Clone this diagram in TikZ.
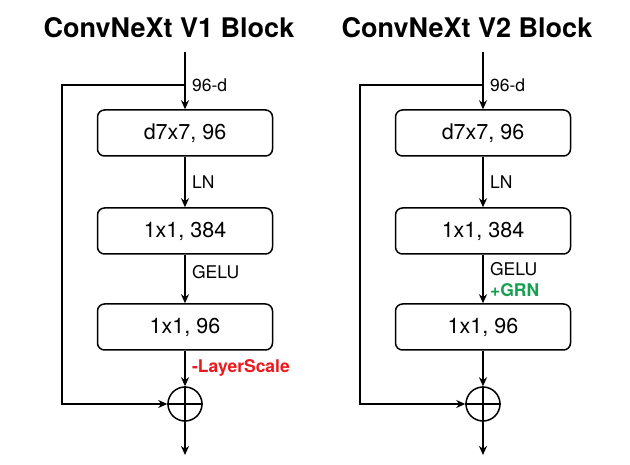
\documentclass[tikz,border=0pt]{standalone}
\usepackage{fontspec}
\setmainfont{TeX Gyre Heros}
\usetikzlibrary{arrows.meta}
\definecolor{lsred}{RGB}{235,25,30}
\definecolor{grngreen}{RGB}{20,160,80}

\begin{document}
\begin{tikzpicture}[x=1pt,y=-1pt,>={Stealth[length=9pt,width=8pt]},line width=1.5pt,
    layer/.style={draw,rounded corners=7pt,minimum width=175pt,minimum height=46pt,
      inner sep=0pt,font=\fontsize{21.5}{24}\selectfont},
    addop/.style={draw,circle,minimum size=34pt,inner sep=0pt},
    lbl/.style={anchor=west,xshift=3pt,font=\fontsize{17.5}{20}\selectfont},
    blocktitle/.style={font=\bfseries\fontsize{27}{32}\selectfont}]
    \useasboundingbox (0,0) rectangle (630,465);
    \foreach \x/\ver/\blk in {185/1/a,483/2/b}{
      \node[blocktitle] (\blk-title) at (\x-16,28) {ConvNeXt V\ver{} Block};
      \coordinate (\blk-in) at (\x,52);
      \coordinate (\blk-split) at (\x,85);
      \coordinate (\blk-skip) at (\x-123,85);
      \coordinate (\blk-out) at (\x,455);
      \node[layer] (\blk-dw) at (\x,133) {d7x7, 96};
      \node[layer] (\blk-pw1) at (\x,231) {1x1, 384};
      \node[layer] (\blk-pw2) at (\x,327) {1x1, 96};
      \node[addop] (\blk-add) at (\x,404) {};
      % main path
      \draw (\blk-in) -- (\blk-split) node[lbl] (\blk-dim) {96-d};
      \draw[->] (\blk-split) -- (\blk-dw);
      \draw[->] (\blk-dw) -- node[lbl] (\blk-ln) {LN} (\blk-pw1);
      \draw[->] (\blk-pw1) -- (\blk-pw2);
      \draw[->] (\blk-pw2) -- (\blk-add);
      \draw[->] (\blk-add) -- (\blk-out);
      \draw (\blk-add.north) -- (\blk-add.south) (\blk-add.west) -- (\blk-add.east);
      % shortcut
      \draw[->] (\blk-split) -- (\blk-skip) |- (\blk-add.west);
    }
    \node[lbl] (a-gelu) at (185,272) {GELU};
    \node[lbl,text=lsred,font=\bfseries\fontsize{17.5}{20}\selectfont] (a-ls) at (185,368) {-LayerScale};
    \node[lbl] (b-gelu) at (483,269) {GELU};
    \node[lbl,text=grngreen,font=\bfseries\fontsize{17.5}{20}\selectfont] (b-grn) at (483,290) {+GRN};
\end{tikzpicture}
\end{document}
